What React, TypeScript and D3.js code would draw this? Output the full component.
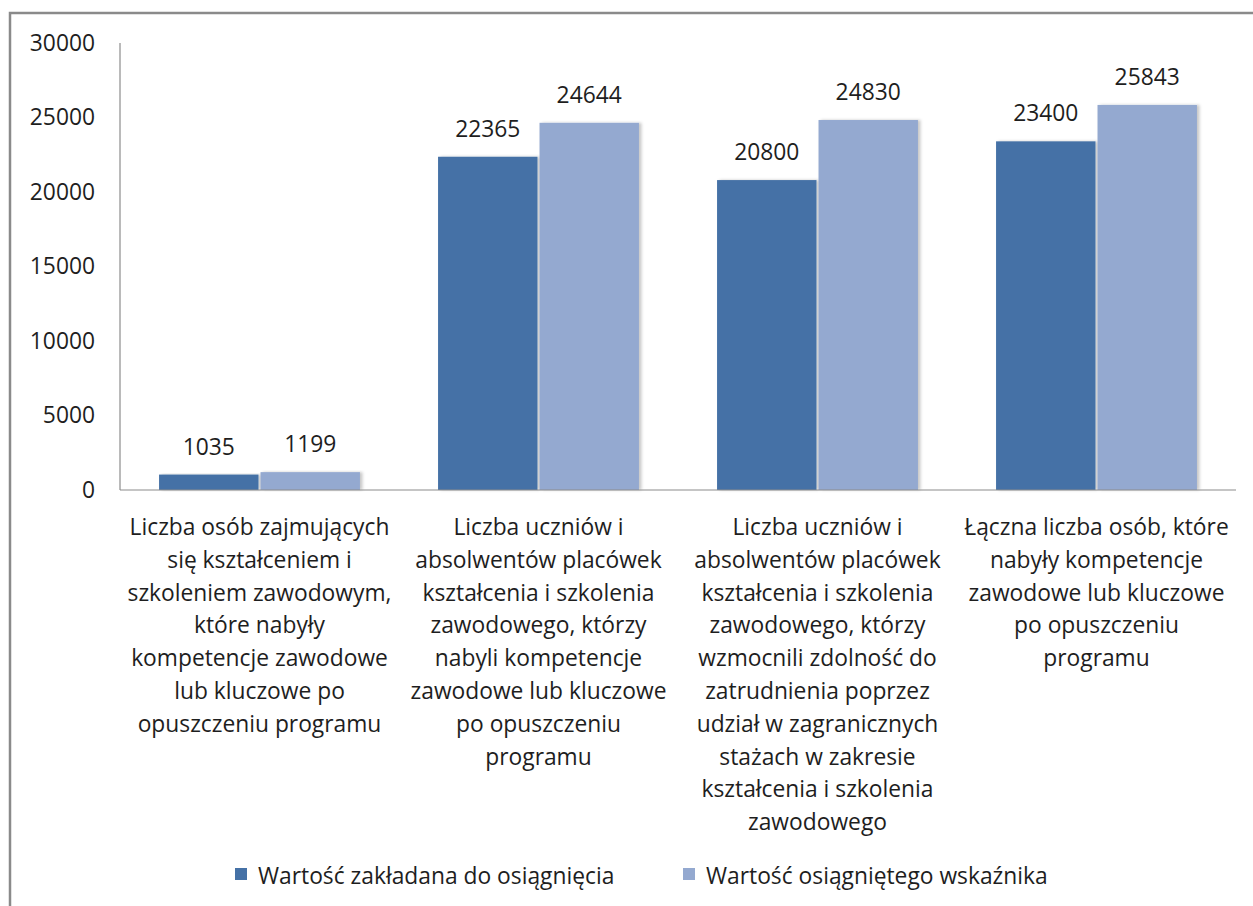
import React from "react";
import * as d3 from "d3";

const categories: string[][] = [
  [
    "Liczba osób zajmujących",
    "się kształceniem i",
    "szkoleniem zawodowym,",
    "które nabyły",
    "kompetencje zawodowe",
    "lub kluczowe po",
    "opuszczeniu programu",
  ],
  [
    "Liczba uczniów i",
    "absolwentów placówek",
    "kształcenia i szkolenia",
    "zawodowego, którzy",
    "nabyli kompetencje",
    "zawodowe lub kluczowe",
    "po opuszczeniu",
    "programu",
  ],
  [
    "Liczba uczniów i",
    "absolwentów placówek",
    "kształcenia i szkolenia",
    "zawodowego, którzy",
    "wzmocnili zdolność do",
    "zatrudnienia poprzez",
    "udział w zagranicznych",
    "stażach w zakresie",
    "kształcenia i szkolenia",
    "zawodowego",
  ],
  [
    "Łączna liczba osób, które",
    "nabyły kompetencje",
    "zawodowe lub kluczowe",
    "po opuszczeniu",
    "programu",
  ],
];

const seriesNames = ["Wartość zakładana do osiągnięcia", "Wartość osiągniętego wskaźnika"];
const planned = [1035, 22365, 20800, 23400];
const achieved = [1199, 24644, 24830, 25843];
const yTicks = [0, 5000, 10000, 15000, 20000, 25000, 30000];

const colors = ["#4571a6", "#94a9d0"];
const font = "'Open Sans', sans-serif";
const textColor = "#1e1e1e";
const fs = 22.8;

const W = 1253;
const H = 906;
const left = 120;
const right = 1236;
const top = 43;
const bottom = 490;

export default function App() {
  const series = [planned, achieved];
  const idx = categories.map((_, i) => i);

  const y = d3.scaleLinear().domain([0, 30000]).range([bottom, top]);
  const x0 = d3
    .scaleBand<number>()
    .domain(idx)
    .range([left, right])
    .paddingInner(0.28)
    .paddingOuter(0.14);
  const x1 = d3
    .scaleBand<number>()
    .domain([0, 1])
    .range([0, x0.bandwidth()])
    .paddingInner(0.02);

  return (
    <svg
      width={W}
      height={H}
      style={{ position: "absolute", left: 0, top: 0, background: "#fff" }}
      fontFamily={font}
    >
      <defs>
        <filter id="shadow" x="-10%" y="-10%" width="130%" height="120%">
          <feDropShadow dx="2.5" dy="0" stdDeviation="1.5" floodColor="#000" floodOpacity="0.22" />
        </filter>
      </defs>
      <rect x={10} y={13} width={1260} height={910} fill="#fff" stroke="#8a8a8a" strokeWidth={2.5} />

      {yTicks.map((t) => (
        <text
          key={t}
          x={95}
          y={y(t)}
          dy="0.35em"
          textAnchor="end"
          fontSize={fs}
          fill={textColor}
        >
          {t}
        </text>
      ))}

      <line x1={left} x2={left} y1={top} y2={bottom} stroke="#8c8c8c" strokeWidth={1.2} />

      {idx.map((i) => (
        <g key={i} transform={`translate(${x0(i)},0)`}>
          {series.map((s, k) => (
            <g key={k}>
              <rect
                x={x1(k)}
                y={y(s[i])}
                width={x1.bandwidth()}
                height={bottom - y(s[i])}
                fill={colors[k]}
                filter="url(#shadow)"
              />
              <text
                x={(x1(k) as number) + x1.bandwidth() / 2}
                y={y(s[i]) - 20}
                textAnchor="middle"
                fontSize={fs}
                fill={textColor}
              >
                {s[i]}
              </text>
            </g>
          ))}
        </g>
      ))}

      <line x1={left} x2={right} y1={bottom} y2={bottom} stroke="#8c8c8c" strokeWidth={1.2} />

      {categories.map((lines, i) => (
        <text
          key={i}
          x={(x0(i) as number) + x0.bandwidth() / 2}
          y={535}
          textAnchor="middle"
          fontSize={fs}
          fill={textColor}
        >
          {lines.map((l, j) => (
            <tspan key={j} x={(x0(i) as number) + x0.bandwidth() / 2} dy={j === 0 ? 0 : 32.8}>
              {l}
            </tspan>
          ))}
        </text>
      ))}

      {seriesNames.map((name, k) => {
        const lx = k === 0 ? 235 : 683;
        return (
          <g key={k}>
            <rect x={lx} y={868} width={12} height={12} fill={colors[k]} />
            <text x={lx + 23} y={884} fontSize={fs} fill={textColor}>
              {name}
            </text>
          </g>
        );
      })}
    </svg>
  );
}
